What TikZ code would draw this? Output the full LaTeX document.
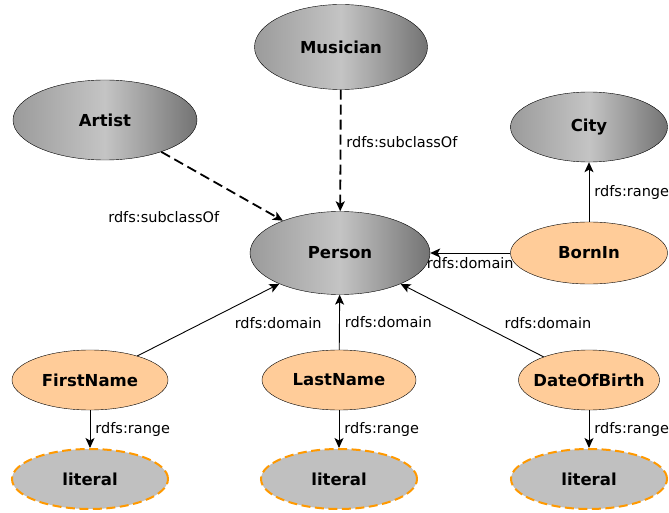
\documentclass[tikz,border=0pt]{standalone}
\usepackage{fontspec}
\setmainfont{DejaVu Sans}
\usetikzlibrary{shapes.geometric,arrows.meta}

\definecolor{peach}{RGB}{255,204,153}
\definecolor{litgray}{RGB}{192,192,192}
\definecolor{litorange}{RGB}{255,153,0}
\definecolor{shadeleft}{RGB}{155,155,155}
\definecolor{shademid}{RGB}{196,196,196}
\definecolor{shaderight}{RGB}{115,115,115}

\begin{document}
\begin{tikzpicture}[x=1pt,y=-1pt,>={Stealth[length=10pt,width=9pt,inset=2.5pt]},
  class node/.style={ellipse,draw,inner sep=0pt,left color=shadeleft,
    right color=shaderight,middle color=shademid,
    font=\fontsize{16.5}{19}\selectfont\bfseries},
  prop node/.style={ellipse,draw,inner sep=0pt,fill=peach,
    font=\fontsize{16.5}{19}\selectfont\bfseries},
  lit node/.style={ellipse,draw=litorange,dash pattern=on 9pt off 4.5pt,
    line width=2pt,inner sep=0pt,fill=litgray,
    minimum width=156pt,minimum height=60pt,
    font=\fontsize{16.5}{19}\selectfont\bfseries},
  lbl/.style={font=\fontsize{14.5}{17}\selectfont,inner sep=2pt}]

  \useasboundingbox (0,0) rectangle (669,513);

  \node[class node,minimum width=173pt,minimum height=85pt] (musician) at (341,47) {Musician};
  \node[class node,minimum width=184pt,minimum height=80pt] (artist) at (105,120) {Artist};
  \node[class node,minimum width=157pt,minimum height=70pt] (city) at (589,127) {City};
  \node[class node,minimum width=180pt,minimum height=83pt] (person) at (340,253) {Person};

  \node[prop node,minimum width=157pt,minimum height=62pt] (bornin) at (589,253) {BornIn};
  \node[prop node,minimum width=156pt,minimum height=60pt] (firstname) at (90,380) {FirstName};
  \node[prop node,minimum width=154pt,minimum height=60pt] (lastname) at (339,380) {LastName};
  \node[prop node,minimum width=141pt,minimum height=60pt,inner xsep=-18pt] (dateofbirth) at (589,380) {DateOfBirth};

  \node[lit node] (lit1) at (90,479) {literal};
  \node[lit node] (lit2) at (339,479) {literal};
  \node[lit node] (lit3) at (589,479) {literal};

  \path[->,line width=1.8pt,dash pattern=on 10pt off 5pt]
    (musician) edge node[lbl,right,pos=0.43,xshift=3pt] {rdfs:subclassOf} (person)
    (artist) edge node[lbl,pos=0.5,anchor=north east,yshift=-22pt] {rdfs:subclassOf} (person)
    ;

  \path[->,line width=0.9pt]
    (bornin) edge node[lbl,right,xshift=3pt] {rdfs:range} (city)
             edge node[lbl,below,yshift=-2pt] {rdfs:domain} (person)
    (firstname) edge node[lbl,pos=0.5,anchor=west,xshift=24pt,yshift=-3pt] {rdfs:domain} (person)
                edge node[lbl,right,xshift=3pt] {rdfs:range} (lit1)
    (lastname) edge node[lbl,right,xshift=3pt] {rdfs:domain} (person)
               edge node[lbl,right,xshift=3pt] {rdfs:range} (lit2)
    (dateofbirth) edge node[lbl,pos=0.5,anchor=west,xshift=30pt,yshift=-3pt] {rdfs:domain} (person)
                  edge node[lbl,right,xshift=3pt] {rdfs:range} (lit3)
    ;
\end{tikzpicture}
\end{document}
